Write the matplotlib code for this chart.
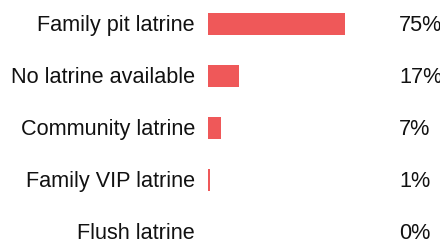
import matplotlib.pyplot as plt

categories = ['Family pit latrine', 'No latrine available', 'Community latrine',
              'Family VIP latrine', 'Flush latrine']
values = [75, 17, 7, 1, 0]
labels = ['75%', '17%', '7%', '1%', '0%']

W, H = 440, 248
px = 1.83          # pixels per percent
x0 = 208           # left edge of the bars
row0, step = 24, 52

fig = plt.figure(figsize=(W / 100, H / 100), dpi=100)
ax = fig.add_axes([x0 / W, 0, 100 * px / W, 1])
ax.set_xlim(0, 100)
ax.set_ylim((H - row0) / step, -row0 / step)
ax.axis('off')

ypos = list(range(len(categories)))
ax.barh(ypos, values, height=22 / step, color='#ef5859')

font = dict(family='Liberation Sans', fontsize=15.6, color='#111111')
for y, cat, lab in zip(ypos, categories, labels):
    ax.text((195 - x0) / px, y + 0.02, cat, ha='right', va='center', clip_on=False, **font)
    ax.text((399 - x0) / px, y + 0.02, lab, ha='left', va='center', clip_on=False, **font)

fig.savefig('out.png', dpi=100)
